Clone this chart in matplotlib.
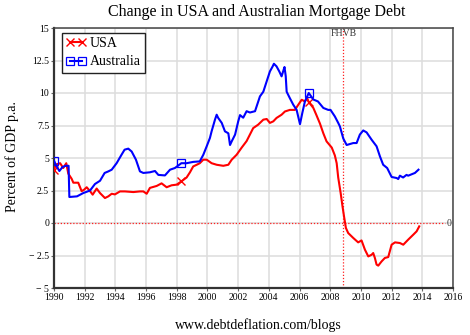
import numpy as np
import matplotlib
matplotlib.use('Agg')
import matplotlib.pyplot as plt

# Values (percent of GDP p.a.)
usa_years = [1990.0, 1990.13, 1990.4, 1990.6, 1990.8, 1990.93, 1991.15, 1991.26, 1991.58,
             1991.8, 1991.95, 1992.13, 1992.35, 1992.52, 1992.78, 1993.0, 1993.32, 1993.54,
             1993.76, 1993.97, 1994.3, 1994.62, 1995.17, 1995.6, 1995.82, 1996.04, 1996.25,
             1996.69, 1997.01, 1997.34, 1997.66, 1997.99, 1998.3, 1998.64, 1998.86, 1999.07,
             1999.3, 1999.5, 1999.73, 1999.95, 2000.27, 2000.6, 2001.03, 2001.36, 2001.58,
             2001.9, 2002.23, 2002.55, 2002.98, 2003.3, 2003.64, 2003.86, 2004.07, 2004.29,
             2004.5, 2004.83, 2005.05, 2005.37, 2005.7, 2005.92, 2006.14, 2006.35, 2006.5,
             2006.6, 2006.9, 2007.1, 2007.33, 2007.55, 2007.76, 2008.1, 2008.3, 2008.42,
             2008.52, 2008.68, 2008.8, 2008.9, 2009.02, 2009.17, 2009.5, 2009.82, 2010.04,
             2010.26, 2010.48, 2010.7, 2010.8, 2010.91, 2011.02, 2011.13, 2011.35, 2011.56,
             2011.78, 2012.0, 2012.22, 2012.54, 2012.76, 2013.08, 2013.41, 2013.63, 2013.8]
usa = [4.1, 4.5, 4.6, 4.23, 4.6, 3.8, 3.4, 3.1, 3.1,
       2.45, 2.55, 2.75, 2.45, 2.18, 2.65, 2.3, 1.92, 2.05,
       2.25, 2.2, 2.43, 2.43, 2.38, 2.43, 2.43, 2.25, 2.7,
       2.85, 3.05, 2.75, 2.9, 2.95, 3.2, 3.5, 3.9, 4.35,
       4.48, 4.6, 4.87, 4.87, 4.6, 4.48, 4.4, 4.48, 4.87,
       5.25, 5.8, 6.3, 7.3, 7.56, 7.95, 8.0, 7.7, 7.82,
       8.08, 8.33, 8.58, 8.7, 8.7, 9.1, 9.48, 9.35, 9.6,
       9.3, 8.85, 8.3, 7.65, 6.9, 6.28, 5.8, 5.2, 4.6,
       3.5, 2.3, 1.28, 0.5, -0.38, -0.77, -1.15, -1.49, -1.34,
       -2.05, -2.57, -2.44, -2.31, -2.69, -3.2, -3.28, -2.95, -2.69,
       -2.62, -1.67, -1.49, -1.54, -1.67, -1.28, -0.9, -0.64, -0.26]

aus_years = [1990.0, 1990.15, 1990.35, 1990.55, 1990.75, 1990.95, 1991.0, 1991.5, 1991.9,
             1992.35, 1992.67, 1993.0, 1993.3, 1993.54, 1993.76, 1994.08, 1994.4, 1994.6,
             1994.84, 1995.06, 1995.34, 1995.6, 1995.82, 1996.25, 1996.58, 1996.8, 1997.23,
             1997.56, 1997.88, 1998.3, 1998.64, 1999.07, 1999.5, 1999.73, 1999.95, 2000.16,
             2000.27, 2000.49, 2000.6, 2000.7, 2000.93, 2001.14, 2001.36, 2001.47, 2001.58,
             2001.8, 2002.0, 2002.12, 2002.33, 2002.55, 2002.77, 2003.1, 2003.42, 2003.64,
             2003.86, 2004.07, 2004.25, 2004.33, 2004.5, 2004.68, 2004.83, 2004.94, 2005.02,
             2005.1, 2005.16, 2005.37, 2005.59, 2005.81, 2006.03, 2006.18, 2006.35, 2006.6,
             2006.9, 2007.2, 2007.55, 2007.87, 2008.02, 2008.3, 2008.52, 2008.63, 2008.85,
             2009.07, 2009.5, 2009.72, 2009.93, 2010.15, 2010.37, 2010.7, 2011.02, 2011.24,
             2011.45, 2011.71, 2012.0, 2012.33, 2012.43, 2012.54, 2012.75, 2012.97, 2013.08,
             2013.52, 2013.75]
aus = [4.8, 4.4, 4.0, 4.3, 4.4, 4.4, 2.0, 2.05, 2.3,
       2.5, 3.0, 3.25, 3.85, 3.97, 4.1, 4.6, 5.25, 5.64,
       5.72, 5.5, 4.87, 3.97, 3.85, 3.9, 4.0, 3.7, 3.66,
       4.1, 4.23, 4.6, 4.6, 4.7, 4.74, 5.25, 5.9, 6.54,
       7.05, 7.95, 8.33, 8.08, 7.7, 7.05, 6.9, 6.0, 6.28,
       6.8, 7.8, 8.3, 8.1, 8.6, 8.5, 8.6, 9.74, 10.1,
       10.9, 11.66, 12.05, 12.25, 12.05, 11.66, 11.28, 11.7, 12.0,
       11.3, 10.1, 9.6, 9.1, 8.7, 7.6, 8.46, 9.35, 10.0,
       9.5, 9.35, 8.85, 8.7, 8.7, 8.2, 7.7, 7.43, 6.5,
       6.0, 6.15, 6.15, 6.8, 7.12, 6.97, 6.4, 5.9, 5.12,
       4.48, 4.23, 3.54, 3.46, 3.38, 3.64, 3.5, 3.7, 3.64,
       3.85, 4.1]

marker_years = [1990.0, 1998.3, 2006.6]
fhvb_year = 2008.85

x_ticks = [1990, 1992, 1994, 1996, 1998, 2000, 2002, 2004, 2006, 2008, 2010, 2012, 2014, 2016]
y_ticks = [-5, -2.5, 0, 2.5, 5, 7.5, 10, 12.5, 15]
y_labels = ['\u2212 5', '\u2212 2.5', '0', '2.5', '5', '7.5', '10', '12.5', '15']

plt.rcParams['font.family'] = ['Liberation Serif', 'DejaVu Serif']

fig = plt.figure(figsize=(4.7, 3.35), dpi=100)
ax = fig.add_axes([54 / 470, 1 - 288 / 335, 399 / 470, 260 / 335])

usa_marks = [usa_years.index(y) for y in marker_years]
aus_marks = [aus_years.index(y) for y in marker_years]

ax.plot(usa_years, usa, color='#ff0000', lw=1.5, marker='x', ms=6, mew=1.0,
        markevery=usa_marks, label='USA', zorder=3)
ax.plot(aus_years, aus, color='#0000ff', lw=1.5, marker='s', ms=5.5, mew=0.9,
        mfc='none', markevery=aus_marks, label='Australia', zorder=4)

# zero line and FHVB marker
ax.plot([1990, 2015.45], [0, 0], color='#ff2020', lw=0.9, ls=(0, (1, 1.5)), zorder=2)
ax.text(2015.75, 0, '0', fontsize=7, ha='center', va='center', color='#333333')
ax.axvline(fhvb_year, color='#ff2020', lw=0.9, ls=(0, (1, 1.5)), zorder=2)
ax.text(fhvb_year, 14.55, 'FHVB', fontsize=7, ha='center', va='center', color='#333333')

ax.set_xlim(1990, 2016)
ax.set_ylim(-5, 15)
ax.set_xticks(x_ticks)
ax.set_xticklabels([str(t) for t in x_ticks])
ax.set_yticks(y_ticks)
ax.set_yticklabels(y_labels)
ax.tick_params(labelsize=7, length=2, width=0.8, color='#666666', pad=1.5)
ax.grid(True, color='#dddddd', lw=1.1, zorder=0)
ax.set_axisbelow(True)
for side in ['top', 'right']:
    ax.spines[side].set_color('#444444')
    ax.spines[side].set_linewidth(1.1)
for side in ['left', 'bottom']:
    ax.spines[side].set_color('#333333')
    ax.spines[side].set_linewidth(1.6)

leg = ax.legend(loc='upper left', bbox_to_anchor=(0.02, 0.982), borderaxespad=0,
                fontsize=10, numpoints=2, handlelength=1.45, handletextpad=0.25,
                borderpad=0.3, labelspacing=0.4, fancybox=False, framealpha=1)
leg.get_frame().set_edgecolor('#222222')
leg.get_frame().set_linewidth(1.0)

fig.text(257 / 470, 1 - 12 / 335, 'Change in USA and Australian Mortgage Debt',
         fontsize=11.5, ha='center', va='center')
fig.text(12 / 470, 1 - 157 / 335, 'Percent of GDP p.a.', fontsize=10,
         rotation=90, ha='center', va='center')
fig.text(258 / 470, 1 - 325 / 335, 'www.debtdeflation.com/blogs', fontsize=10,
         ha='center', va='center')

fig.savefig('out.png', dpi=100)
